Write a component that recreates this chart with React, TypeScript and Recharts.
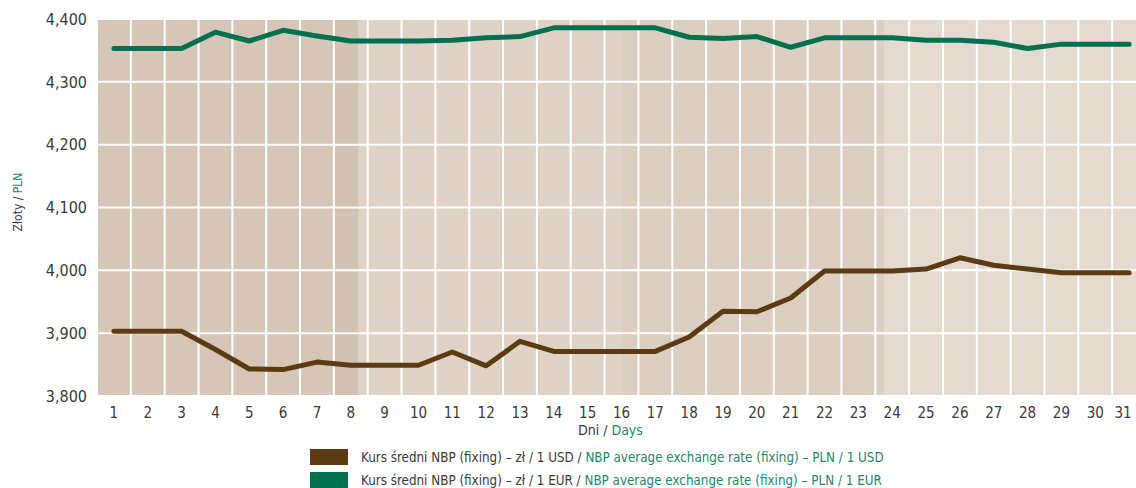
import { LineChart, Line, XAxis, YAxis, CartesianGrid } from 'recharts';

const days = [
  1, 2, 3, 4, 5, 6, 7, 8, 9, 10, 11, 12, 13, 14, 15, 16, 17, 18, 19, 20, 21, 22, 23, 24, 25, 26,
  27, 28, 29, 30, 31,
];

// PLN / 1 EUR
const eurRates = [
  4.353, 4.353, 4.353, 4.379, 4.365, 4.382, 4.373, 4.365, 4.365, 4.365, 4.366, 4.37, 4.372,
  4.386, 4.386, 4.386, 4.386, 4.371, 4.369, 4.372, 4.355, 4.37, 4.37, 4.37, 4.366, 4.366,
  4.363, 4.353, 4.36, 4.36, 4.36,
];

// PLN / 1 USD
const usdRates = [
  3.903, 3.903, 3.903, 3.874, 3.843, 3.842, 3.854, 3.849, 3.849, 3.849, 3.87, 3.848, 3.887,
  3.871, 3.871, 3.871, 3.871, 3.894, 3.935, 3.934, 3.956, 3.999, 3.999, 3.999, 4.002, 4.02,
  4.008, 4.002, 3.996, 3.996, 3.996,
];

const yTicks = [3.8, 3.9, 4.0, 4.1, 4.2, 4.3, 4.4];

// column boundaries for the white grid (hidden numeric axis, 0..31)
const columnEdges = [
  0, 1, 2, 3, 4, 5, 6, 7, 8, 9, 10, 11, 12, 13, 14, 15, 16, 17, 18, 19, 20, 21, 22, 23, 24, 25,
  26, 27, 28, 29, 30, 31,
];

// background shading stripes, darkest to lightest
const bandEdges = [0, 7, 7.71, 15, 15.5, 23, 23.25, 31];
const bandColors = ['#d5c6b8', '#d2c2b4', '#dfd3c7', '#dccfc2', '#e4dad0', '#e2d7cd', '#ede6e0', '#ede6e0'];

const data = days.map((d, i) => ({ day: d, eur: eurRates[i], usd: usdRates[i] }));

const font = "'Liberation Sans Narrow', 'DejaVu Sans Condensed', 'DejaVu Sans', sans-serif";
const grey = '#3a3a3a';
const greenText = '#23876a';
const greenLine = '#00704f';
const brownLine = '#5c3a12';

const fmt = (v: number) => v.toFixed(3).replace('.', ',');

// day labels; the last one is nudged left so it stays inside the picture
const DayTick = (props: any) => {
  const { x, y, payload } = props;
  const last = payload.value === days[days.length - 1];
  return (
    <text
      x={last ? x - 6 : x}
      y={y}
      dy="0.71em"
      textAnchor="middle"
      fill={grey}
      fontSize={15}
      fontFamily={font}
    >
      {payload.value}
    </text>
  );
};

export default function App() {
  return (
    <div
      style={{
        position: 'absolute',
        left: 0,
        top: 0,
        width: 1136,
        height: 488,
        overflow: 'hidden',
        background: '#fff',
        fontFamily: font,
      }}
    >
      <LineChart
        width={1150}
        height={488}
        data={data}
        margin={{ top: 19, right: 4, left: 0, bottom: 62 }}
      >
        <XAxis xAxisId="fill" type="number" dataKey="day" domain={[0, 31]} ticks={bandEdges} hide />
        <XAxis xAxisId="bg" type="number" dataKey="day" domain={[0, 31]} ticks={columnEdges} hide />
        <CartesianGrid
          xAxisId="fill"
          horizontal={false}
          stroke="none"
          strokeOpacity={0}
          verticalFill={bandColors}
          fillOpacity={1}
        />
        <CartesianGrid xAxisId="bg" stroke="#ffffff" strokeWidth={2} />
        <XAxis
          dataKey="day"
          scale="band"
          axisLine={false}
          tickLine={false}
          tickMargin={5}
          interval={0}
          tick={<DayTick />}
        />
        <YAxis
          width={97}
          domain={[3.8, 4.4]}
          ticks={yTicks}
          axisLine={false}
          tickLine={false}
          tickMargin={4}
          tickFormatter={fmt}
          tick={{ fill: grey, fontSize: 16, fontFamily: font }}
        />
        <Line
          dataKey="eur"
          stroke={greenLine}
          strokeWidth={5}
          strokeLinecap="round"
          strokeLinejoin="round"
          dot={false}
          isAnimationActive={false}
        />
        <Line
          dataKey="usd"
          stroke={brownLine}
          strokeWidth={5}
          strokeLinecap="round"
          strokeLinejoin="round"
          dot={false}
          isAnimationActive={false}
        />
      </LineChart>

      {/* y axis title */}
      <div
        style={{
          position: 'absolute',
          left: 18,
          top: 202,
          transform: 'translate(-50%, -50%) rotate(-90deg)',
          whiteSpace: 'nowrap',
          fontSize: 12,
          color: grey,
        }}
      >
        Złoty / <span style={{ color: greenText }}>PLN</span>
      </div>

      {/* x axis title */}
      <div
        style={{
          position: 'absolute',
          left: 578,
          top: 422,
          whiteSpace: 'nowrap',
          fontSize: 14,
          color: grey,
        }}
      >
        Dni / <span style={{ color: greenText }}>Days</span>
      </div>

      {/* legend */}
      {[
        { color: brownLine, cur: 'USD', top: 449 },
        { color: greenLine, cur: 'EUR', top: 472 },
      ].map((row) => (
        <div
          key={row.cur}
          style={{
            position: 'absolute',
            left: 310,
            top: row.top,
            height: 16,
            display: 'flex',
            alignItems: 'center',
            whiteSpace: 'nowrap',
            fontSize: 13.3,
            color: grey,
          }}
        >
          <span style={{ width: 38, height: 16, background: row.color, marginRight: 13 }} />
          <span>
            Kurs średni NBP (fixing) – zł / 1 {row.cur} /{' '}
            <span style={{ color: greenText }}>
              NBP average exchange rate (fixing) – PLN / 1 {row.cur}
            </span>
          </span>
        </div>
      ))}
    </div>
  );
}
